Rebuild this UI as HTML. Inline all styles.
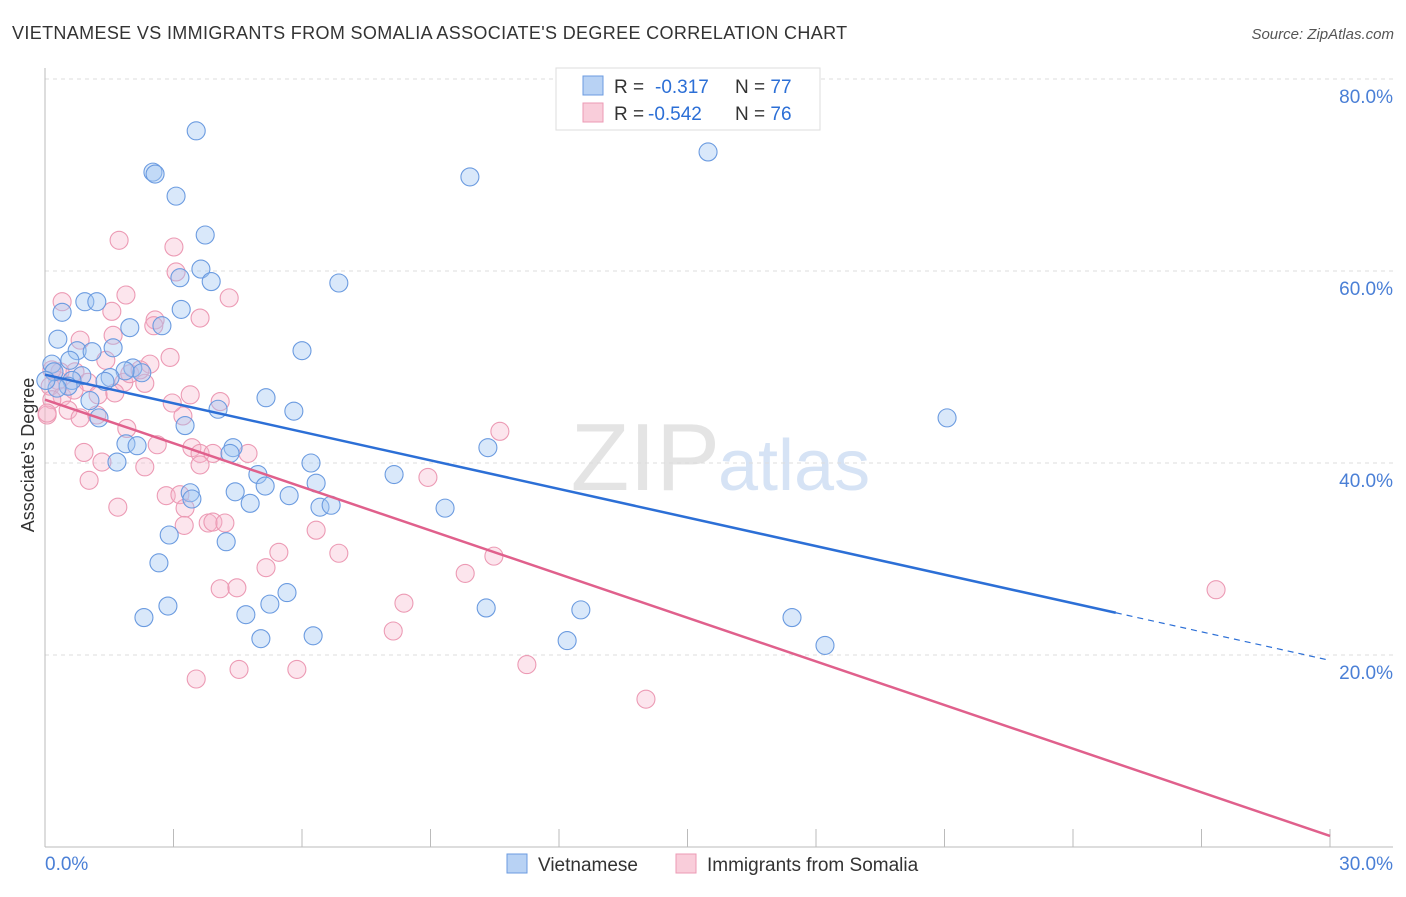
<!DOCTYPE html>
<html><head><meta charset="utf-8"><style>
body{margin:0;background:#fff;font-family:"Liberation Sans",sans-serif}
svg text{font-family:"Liberation Sans",sans-serif}
</style></head><body>
<svg id="chart" width="1406" height="892" xmlns="http://www.w3.org/2000/svg">
<text x="12" y="39" font-size="18" letter-spacing="0.35" fill="#333">VIETNAMESE VS IMMIGRANTS FROM SOMALIA ASSOCIATE'S DEGREE CORRELATION CHART</text>
<text x="1394" y="39" font-size="15" fill="#555" text-anchor="end" font-style="italic">Source: ZipAtlas.com</text>
<text x="720" y="490" font-size="96" fill="#e4e4e4" text-anchor="end" font-family="Liberation Serif">ZIP</text>
<text x="718" y="490" font-size="72" fill="#d6e3f5">atlas</text>
<g id="grid"></g><g id="axes"></g><g id="pts"></g><g id="lines"></g>
<text transform="translate(34,455) rotate(-90)" font-size="18" fill="#333" text-anchor="middle">Associate's Degree</text>
<g>
<rect x="556" y="68" width="264" height="62" fill="#fff" stroke="#ddd"/>
<rect x="583" y="76" width="20" height="19" fill="#b8d2f4" stroke="#6b9be0"/>
<rect x="583" y="103" width="20" height="19" fill="#f9cdda" stroke="#ec9ab4"/>
<text x="614" y="93" font-size="19" fill="#333">R = <tspan x="655" fill="#2c6fd6">-0.317</tspan><tspan x="735">N = </tspan><tspan fill="#2c6fd6">77</tspan></text>
<text x="614" y="120" font-size="19" fill="#333">R = <tspan x="648" fill="#2c6fd6">-0.542</tspan><tspan x="735">N = </tspan><tspan fill="#2c6fd6">76</tspan></text>
</g>
<g>
<rect x="507" y="854" width="20" height="19" fill="#b8d2f4" stroke="#6b9be0"/>
<text x="538" y="871" font-size="19" fill="#333">Vietnamese</text>
<rect x="676" y="854" width="20" height="19" fill="#f9cdda" stroke="#ec9ab4"/>
<text x="707" y="871" font-size="19" fill="#333">Immigrants from Somalia</text>
</g>
</svg>
<script>
const blueX=[3.53,2.52,2.57,3.06,9.92,15.48,3.74,3.64,3.88,3.15,6.86,0.93,1.21,0.40,3.18,1.98,2.73,0.30,6.0,0.75,1.10,1.59,0.16,0.58,2.05,2.26,1.87,0.86,1.52,1.40,0.63,0.54,0.28,5.16,4.04,5.81,1.26,1.05,21.06,3.27,1.89,2.15,4.39,4.32,10.34,1.68,6.21,8.15,4.97,5.14,4.44,6.33,3.39,3.43,5.70,4.79,6.42,6.68,9.34,2.90,4.23,2.66,5.65,5.25,10.30,12.51,2.87,2.31,4.69,17.44,5.04,6.26,12.19,18.21,0.21,0.02];
const blueY=[74.6,70.3,70.1,67.8,69.8,72.4,63.75,60.2,58.9,59.3,58.75,56.8,56.8,55.7,56.0,54.1,54.3,52.9,51.7,51.7,51.6,52.0,50.3,50.7,49.9,49.4,49.6,49.1,48.9,48.5,48.6,48.0,47.8,46.8,45.6,45.4,44.7,46.5,44.7,43.9,42.0,41.8,41.6,41.0,41.6,40.1,40.0,38.8,38.8,37.6,37.0,37.9,36.9,36.25,36.6,35.8,35.4,35.6,35.3,32.5,31.8,29.6,26.5,25.3,24.9,24.7,25.1,23.9,24.2,23.9,21.7,22.0,21.5,21.0,49.5,48.6];
const pinkX=[1.73,3.01,1.89,3.06,0.40,4.30,1.56,3.62,2.57,2.54,0.82,1.59,2.92,2.45,1.42,1.84,0.70,1.98,2.33,0.30,0.12,0.40,0.16,0.54,0.82,1.21,3.39,4.09,0.05,1.91,2.62,3.43,3.62,3.92,4.74,0.91,1.33,2.33,3.62,1.03,1.70,2.83,3.15,3.27,3.25,3.81,3.92,4.20,5.46,5.16,6.33,6.86,10.62,8.94,10.48,9.81,8.38,8.13,11.25,14.03,4.09,4.48,4.53,5.88,3.53,27.34,1.00,0.68,1.24,1.63,0.35,0.16,2.22,0.05,3.22,2.97];
const pinkY=[63.2,62.5,57.5,59.9,56.8,57.2,55.8,55.1,54.9,54.3,52.8,53.3,51.0,50.3,50.7,48.4,49.5,49.3,48.3,48.6,48.0,46.9,46.6,45.5,44.7,45.0,47.1,46.4,45.0,43.6,41.9,41.6,41.0,41.0,41.0,41.1,40.1,39.6,39.8,38.2,35.4,36.6,36.7,35.3,33.5,33.75,33.85,33.75,30.7,29.1,33.0,30.6,43.3,38.5,30.3,28.5,25.4,22.5,19.0,15.4,26.9,27.0,18.5,18.5,17.5,26.8,48.4,47.6,47.1,47.3,49.5,49.7,49.7,45.2,44.9,46.25];
const blueTrend=[49.2,-0.992]; // intercept, slope
const pinkTrend=[46.6,-1.515];
const yTicks=[20,40,60,80];
const xTickLabels=["0.0%","30.0%"];
const NS="http://www.w3.org/2000/svg";
const sx=v=>45+v*(1285/30), sy=v=>847-v*9.6;
function mk(t,a,p){const e=document.createElementNS(NS,t);for(const k in a)e.setAttribute(k,a[k]);document.getElementById(p).appendChild(e);return e;}
yTicks.forEach(t=>{
 const l=mk('line',{x1:45,x2:1393,y1:sy(t),y2:sy(t),stroke:'#ddd','stroke-dasharray':'4,4'},'grid');
 
 
 const tx=mk('text',{x:1393,y:sy(t)+24,'font-size':19,fill:'#4a7fd6','text-anchor':'end'},'axes');tx.textContent=t.toFixed(1)+'%';
 
 
});
const ax=mk('line',{x1:45,x2:45,y1:68,y2:847,stroke:'#bbb'},'axes');


const bx=mk('line',{x1:45,x2:1393,y1:847,y2:847,stroke:'#bbb'},'axes');


for(let i=0;i<=10;i++){const t=mk('line',{x1:sx(i*3),x2:sx(i*3),y1:829,y2:847,stroke:'#bbb'},'axes');
 
 }
[[0,'start',45],[30,'end',1393]].forEach((d,i)=>{const t=mk('text',{x:d[2],y:870,'font-size':19,fill:'#4a7fd6','text-anchor':d[1]},'axes');t.textContent=xTickLabels[i];
 
 });
function pts(X,Y,f,s,n){X.forEach((x,i)=>{const c=mk('circle',{cx:sx(x),cy:sy(Y[i]),r:9,fill:f,stroke:s,'stroke-width':1.1},'pts');
 
 });}
pts(pinkX,pinkY,'rgba(246,180,202,0.35)','#ec9ab4','point-somalia');
pts(blueX,blueY,'rgba(160,198,242,0.4)','#6b9be0','point-vietnamese');
const bl=mk('line',{x1:sx(0),y1:sy(blueTrend[0]),x2:sx(25),y2:sy(blueTrend[0]+25*blueTrend[1]),stroke:'#2c6fd6','stroke-width':2.5},'lines');


const bd=mk('line',{x1:sx(25),y1:sy(blueTrend[0]+25*blueTrend[1]),x2:sx(30),y2:sy(blueTrend[0]+30*blueTrend[1]),stroke:'#2c6fd6','stroke-width':1.2,'stroke-dasharray':'6,5'},'lines');


const pl=mk('line',{x1:sx(0),y1:sy(pinkTrend[0]),x2:sx(30),y2:sy(pinkTrend[0]+30*pinkTrend[1]),stroke:'#e0608c','stroke-width':2.5},'lines');


</script>
</body></html>
